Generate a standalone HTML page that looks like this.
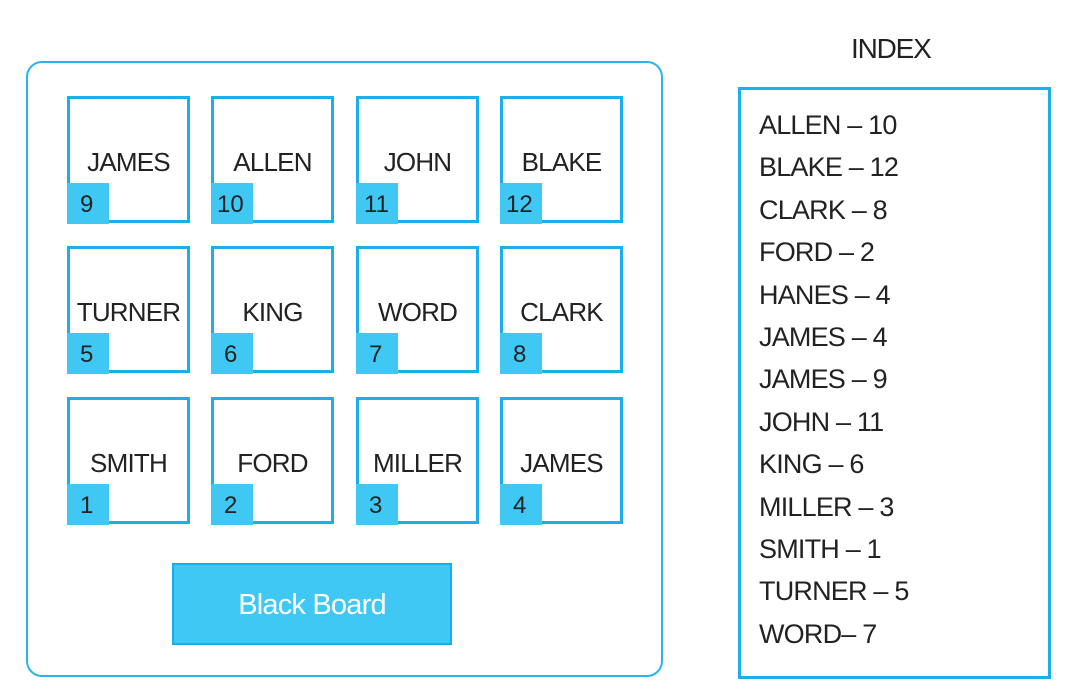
<!DOCTYPE html>
<html><head><meta charset="utf-8"><style>
body{margin:0;width:1083px;height:688px;background:#fff;position:relative;overflow:hidden;font-family:"Liberation Sans",sans-serif;color:#222}
.outer{position:absolute;left:26px;top:61px;width:633px;height:612px;border:2.5px solid #29b4ee;border-radius:16px}
.cell{position:absolute;width:117px;height:121px;border:3px solid #1aaeea;box-sizing:content-box}
.cell .n{position:absolute;left:0;right:0;top:48px;text-align:center;font-size:26px;letter-spacing:-0.8px}
.cell .b{position:absolute;left:-3px;top:84px;width:42px;height:41px;background:#40c8f4;font-size:24px;line-height:44px;padding-left:13px;box-sizing:border-box}
.bb{position:absolute;left:172px;top:563px;width:276px;height:78px;background:#40c8f4;border:2px solid #14aee8;color:#fff;font-size:29px;text-align:center;line-height:80px;letter-spacing:-0.8px}
.title{position:absolute;left:851px;top:33px;font-size:28px;letter-spacing:-1.2px}
.idx{position:absolute;left:738px;top:87px;width:307px;height:586px;border:3px solid #1aaeea}
.e{position:absolute;left:759px;font-size:27px;letter-spacing:-0.8px;line-height:30px}
</style></head><body>
<div class="outer"></div>
<div class="cell" style="left:67px;top:96px"><div class="n">JAMES</div><div class="b">9</div></div>
<div class="cell" style="left:211px;top:96px"><div class="n">ALLEN</div><div class="b" style="padding-left:6px">10</div></div>
<div class="cell" style="left:356px;top:96px"><div class="n">JOHN</div><div class="b" style="padding-left:8px">11</div></div>
<div class="cell" style="left:500px;top:96px"><div class="n">BLAKE</div><div class="b" style="padding-left:6px">12</div></div>
<div class="cell" style="left:67px;top:246px"><div class="n">TURNER</div><div class="b">5</div></div>
<div class="cell" style="left:211px;top:246px"><div class="n">KING</div><div class="b">6</div></div>
<div class="cell" style="left:356px;top:246px"><div class="n">WORD</div><div class="b">7</div></div>
<div class="cell" style="left:500px;top:246px"><div class="n">CLARK</div><div class="b">8</div></div>
<div class="cell" style="left:67px;top:397px"><div class="n">SMITH</div><div class="b">1</div></div>
<div class="cell" style="left:211px;top:397px"><div class="n">FORD</div><div class="b">2</div></div>
<div class="cell" style="left:356px;top:397px"><div class="n">MILLER</div><div class="b">3</div></div>
<div class="cell" style="left:500px;top:397px"><div class="n">JAMES</div><div class="b">4</div></div>
<div class="bb">Black Board</div>
<div class="title">INDEX</div>
<div class="idx"></div>
<div class="e" style="top:110px">ALLEN – 10</div>
<div class="e" style="top:152px">BLAKE – 12</div>
<div class="e" style="top:195px">CLARK – 8</div>
<div class="e" style="top:237px">FORD – 2</div>
<div class="e" style="top:280px">HANES – 4</div>
<div class="e" style="top:322px">JAMES – 4</div>
<div class="e" style="top:364px">JAMES – 9</div>
<div class="e" style="top:407px">JOHN – 11</div>
<div class="e" style="top:449px">KING – 6</div>
<div class="e" style="top:492px">MILLER – 3</div>
<div class="e" style="top:534px">SMITH – 1</div>
<div class="e" style="top:576px">TURNER – 5</div>
<div class="e" style="top:619px">WORD– 7</div>
</body></html>
